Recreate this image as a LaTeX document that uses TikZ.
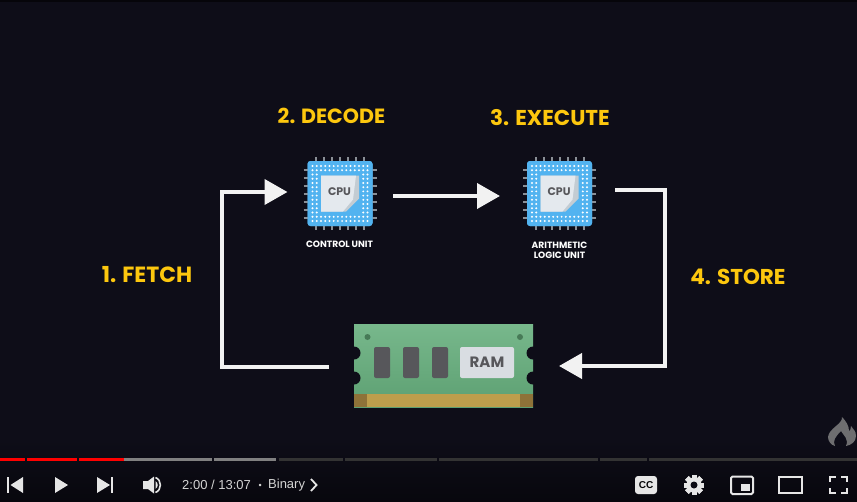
\documentclass[tikz,border=0pt]{standalone}
\usepackage{fontspec}
\setmainfont{Liberation Sans}
\newfontfamily\titlefont{Poppins}[UprightFont=* Bold,BoldFont=* Bold]
\usetikzlibrary{arrows.meta,calc}
\definecolor{bgc}{HTML}{0E0D18}
\definecolor{yel}{HTML}{FDC70E}
\definecolor{iconc}{HTML}{E6E6E6}
\definecolor{chipblue}{HTML}{52B3F0}
\definecolor{pinc}{HTML}{8A8F96}
\definecolor{faceC}{HTML}{E4E9EE}
\definecolor{foldC}{HTML}{C3CCD3}
\definecolor{ramG}{HTML}{65AE7C}
\definecolor{goldC}{HTML}{BD9E4C}
\definecolor{goldD}{HTML}{8E7238}
\definecolor{slotC}{HTML}{57575B}
\tikzset{
  x=1pt,y=-1pt,
  flow/.style={draw=white!95!black,line width=4pt,-{Triangle[length=23pt,width=25pt]}},
  steplabel/.style={text=yel,font=\titlefont\fontsize{21.5}{24}\selectfont,inner sep=0pt},
  caption/.style={text=white,font=\titlefont\fontsize{9.1}{10.4}\selectfont,inner sep=0pt,align=center},
  chiptext/.style={text=slotC,font=\titlefont\fontsize{11}{12}\selectfont,inner sep=0pt},
  cpubox/.style={minimum width=65pt,minimum height=65pt,inner sep=0pt,outer sep=0pt,fill=chipblue,rounded corners=3pt},
  track/.style={line width=3pt},
  ctext/.style={text=iconc!92!black,font=\fontsize{13}{15}\selectfont,inner sep=0pt,anchor=west},
  icon/.style={fill=iconc,draw=none},
  iconline/.style={draw=iconc,fill=none,line width=2pt},
  cpu/.pic={
    \foreach \k in {-24,-16,...,24}{
      \draw[pinc,line width=2pt] (\k,-36.5) -- (\k,36.5);
      \draw[pinc,line width=2pt] (-36.5,\k) -- (36.5,\k);
    }
    \fill[chipblue,rounded corners=3pt] (-32.5,-32.5) rectangle (32.5,32.5);
    \foreach \i in {0,...,13}{\foreach \j in {0,...,13}{
      \pgfmathsetmacro{\dx}{-27.5+\i*4.23}
      \pgfmathsetmacro{\dy}{-27.5+\j*4.23}
      \pgfmathparse{(abs(\dx)<21 && abs(\dy)<21) ? 0 : 1}
      \ifnum\pgfmathresult>0 \fill[white] (\dx,\dy) circle (1.1pt);\fi
    }}
    \fill[foldC] (-19,-18) -- (19,-18) -- (19,5) -- (6,18) -- (-19,18) -- cycle;
    \fill[faceC] (-19,-18) -- (16,-18) -- (13,6) -- (3,18) -- (-19,18) -- cycle;
  }
}
\begin{document}
\begin{tikzpicture}
\useasboundingbox (0,0) rectangle (857,501);
\fill[bgc] (0,0) rectangle (857,501);
\fill[black!60!bgc] (0,0) rectangle (857,2);
\shade[top color=bgc,bottom color=black!45!bgc] (0,440) rectangle (857,501);

% CPU blocks
\node[cpubox] (cu) at (340,193.5) {};
\pic at (cu.center) {cpu};
\node[chiptext] (cutext) at (339.5,192) {CPU};
\node[cpubox] (alu) at (559.5,193.5) {};
\pic at (alu.center) {cpu};
\node[chiptext] (alutext) at (559,192) {CPU};
\node[caption] (cucap) at (339.5,244) {CONTROL UNIT};
\node[caption] (alucap) at (559.5,250) {ARITHMETIC\\LOGIC UNIT};

% RAM
\node[minimum width=179pt,minimum height=83pt,inner sep=0pt,outer sep=0pt,top color=ramG!88!white,bottom color=ramG!92!black] (ram) at (443.5,365.5) {};
\fill[goldC] (354,394) rectangle (533,407);
\fill[goldD] (354,394) rectangle (367,407);
\fill[goldD] (520,394) rectangle (533,407);
\foreach \yy in {353,378}{
  \fill[bgc] (354,\yy) circle (6.5pt);
  \fill[bgc] (533,\yy) circle (6.5pt);
}
\fill[ramG!70!black] (367.5,337) circle (3pt);
\fill[ramG!70!black] (520,337) circle (3pt);
\foreach \xx in {374,403,432}{
  \fill[slotC,rounded corners=2pt] (\xx,347) rectangle (\xx+16,378);
}
\node[fill=faceC!95!black,rounded corners=2pt,minimum width=54pt,minimum height=31pt,inner sep=0pt,text=slotC,font=\titlefont\fontsize{15}{16}\selectfont] (ramlabel) at (487,362.5) {RAM};

% Connectors
\coordinate (fetchfrom) at ($(ram.west)+(-25,1.5)$);
\coordinate (fetchto) at ($(cu.west)+(-20,-1.5)$);
\draw[flow] (fetchfrom) -- (222,367) -- (222,192) -- (fetchto);
\coordinate (decfrom) at ($(cu.east)+(20.5,2.5)$);
\coordinate (decto) at ($(alu.west)+(-27,2.5)$);
\draw[flow] (decfrom) -- (decto);
\coordinate (storefrom) at ($(alu.east)+(23,-3.5)$);
\coordinate (storeto) at ($(ram.east)+(26,0.5)$);
\draw[flow] (storefrom) -- (665,190) -- (665,366) -- (storeto);

% Step labels
\node[steplabel,font=\titlefont\fontsize{20.6}{24}\selectfont] (decode) at (331.5,116) {2. DECODE};
\node[steplabel] (execute) at (550,118) {3. EXECUTE};
\node[steplabel,font=\titlefont\fontsize{22}{24}\selectfont] (fetch) at (147,275) {1. FETCH};
\node[steplabel] (store) at (738,277) {4. STORE};

% Flame
\fill[gray!85!bgc] (842,417) .. controls (843,424) and (829,428) .. (828,437) .. controls (828,441) and (831,445) .. (835,446) .. controls (832,441) and (836,436) .. (841,431) .. controls (844,436) and (849,439) .. (846,446) .. controls (851,445) and (856,442) .. (856,436) .. controls (856,431) and (853,429) .. (851,426) .. controls (851,429) and (850,431) .. (849,431) .. controls (849,426) and (846,421) .. (842,417) -- cycle;

% Progress bar
\foreach \a/\b/\c in {0/25/red,27/77/red,79/124/red,124/212/gray,214/276/gray,279/343/black!60!gray,345/437/black!60!gray,439/598/black!60!gray,600/647/black!60!gray,649/857/black!60!gray}{
  \draw[track,\c] (\a,459) -- (\b,459);
}

% Player controls
\fill[icon] (7.3,477) rectangle (9.3,493);
\fill[icon] (23,477) -- (23,493) -- (10.5,485) -- cycle;
\fill[icon] (55,477) -- (68,485) -- (55,493) -- cycle;
\fill[icon] (97,477) -- (110,485) -- (97,493) -- cycle;
\fill[icon] (110.5,477) rectangle (113,493);
\fill[icon] (143,481) -- (148,481) -- (154,476.5) -- (154,493.5) -- (148,489) -- (143,489) -- cycle;
\draw[iconc,line width=1.6pt] (155.5,477.5) .. controls (162,480) and (162,490) .. (155.5,492.5);
\fill[iconc] (155.5,481) .. controls (158.5,483) and (158.5,487) .. (155.5,489) -- cycle;
\node[ctext] (timetext) at (182,485) {2:00 / 13:07};
\node[ctext] (dot) at (258.5,486) {\fontsize{9}{10}\selectfont•};
\node[ctext] (chapter) at (268,485) {Binary};
\draw[iconc,line width=1.8pt] (311,479) -- (316.5,485) -- (311,491);

% Right controls
\node[fill=iconc,rounded corners=3pt,minimum width=22pt,minimum height=18pt,inner sep=0pt,text=black!80!bgc,font=\bfseries\fontsize{10}{10}\selectfont] (cc) at (646,485) {CC};
\foreach \t in {0,45,...,315}{
  \fill[iconc,rotate around={\t:(694,485)}] (691.5,475) rectangle (696.5,495);
}
\fill[iconc] (694,485) circle (7.5pt);
\fill[black!20!bgc] (694,485) circle (3.5pt);
\draw[iconline,rounded corners=1.5pt] (731,476.5) rectangle (753,494);
\fill[iconc] (741,484) rectangle (750,491);
\draw[iconline] (778.5,477) rectangle (801.5,493);
\draw[iconline,line width=2.2pt] (830,482) -- (830,477) -- (836,477);
\draw[iconline,line width=2.2pt] (841,477) -- (847,477) -- (847,482);
\draw[iconline,line width=2.2pt] (847,488) -- (847,493) -- (841,493);
\draw[iconline,line width=2.2pt] (836,493) -- (830,493) -- (830,488);
\end{tikzpicture}
\end{document}
